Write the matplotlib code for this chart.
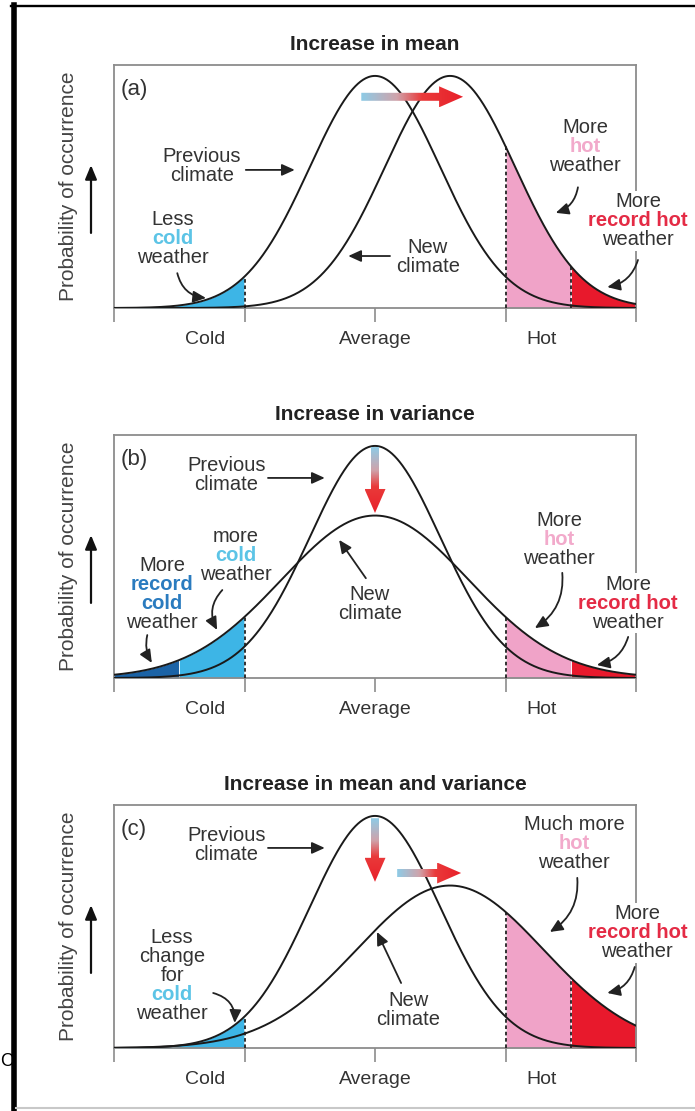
import numpy as np
import matplotlib
matplotlib.use('Agg')
import matplotlib.pyplot as plt
from matplotlib.colors import LinearSegmentedColormap
from matplotlib.lines import Line2D
from matplotlib.patches import Polygon
from matplotlib.transforms import blended_transform_factory

plt.rcParams['font.family'] = ['Liberation Sans', 'DejaVu Sans']

# ---- data ----
titles = ['Increase in mean', 'Increase in variance', 'Increase in mean and variance']
tags = ['(a)', '(b)', '(c)']
prev_mean = [0.0, 0.0, 0.0]
prev_sd = [1.0, 1.0, 1.0]
prev_peak = [1.0, 1.0, 1.0]
new_mean = [1.15, 0.0, 1.15]
new_sd = [1.0, 1.43, 1.43]
new_peak = [1.0, 0.7, 0.7]

record_cold = -3
cold = -2
hot = 2
record_hot = 3
x_lo, x_hi = -4, 4

cat_labels = ['Cold', 'Average', 'Hot']
cat_pos = [-2.6, 0.0, 2.55]
edge_ticks = [-4, -2, 0, 2, 4]

# colours
c_lblue = '#3db5e6'
c_dblue = '#1b63a6'
c_pink = '#f0a3c8'
c_red = '#e8192c'
txt_col = {None: '#333333', 'cold': '#5cc4e6', 'hot': '#f2aacb',
           'rhot': '#e42b45', 'rcold': '#2a7bbf'}

# shaded tails: (from, to, curve, colour)
fills = [
    [(x_lo, cold, 'prev', c_lblue), (hot, record_hot, 'new', c_pink), (record_hot, x_hi, 'new', c_red)],
    [(x_lo, record_cold, 'new', c_dblue), (record_cold, cold, 'new', c_lblue),
     (hot, record_hot, 'new', c_pink), (record_hot, x_hi, 'new', c_red)],
    [(x_lo, cold, 'max', c_lblue), (hot, record_hot, 'new', c_pink), (record_hot, x_hi, 'new', c_red)],
]
dashes = [
    [(cold, 'prev'), (hot, 'new'), (record_hot, 'new')],
    [(cold, 'new'), (hot, 'new')],
    [(cold, 'max'), (hot, 'new'), (record_hot, 'new')],
]

# ---- annotation layout ----
texts = [
    [(-2.65, 0.61, [('Previous', None), ('climate', None)], False),
     (-3.10, 0.30, [('Less', None), ('cold', 'cold'), ('weather', None)], False),
     (0.81, 0.22, [('New', None), ('climate', None)], False),
     (3.22, 0.694, [('More', None), ('hot', 'hot'), ('weather', None)], False),
     (4.03, 0.375, [('More', None), ('record hot', 'rhot'), ('weather', None)], True)],
    [(-2.28, 0.875, [('Previous', None), ('climate', None)], False),
     (-2.13, 0.526, [('more', None), ('cold', 'cold'), ('weather', None)], False),
     (-3.26, 0.364, [('More', None), ('record', 'rcold'), ('cold', 'rcold'), ('weather', None)], False),
     (-0.08, 0.32, [('New', None), ('climate', None)], False),
     (2.82, 0.595, [('More', None), ('hot', 'hot'), ('weather', None)], False),
     (3.88, 0.323, [('More', None), ('record hot', 'rhot'), ('weather', None)], True)],
    [(-2.28, 0.875, [('Previous', None), ('climate', None)], False),
     (-3.11, 0.312, [('Less', None), ('change', None), ('for', None), ('cold', 'cold'), ('weather', None)], False),
     (0.51, 0.164, [('New', None), ('climate', None)], False),
     (3.05, 0.879, [('Much more', None), ('hot', 'hot'), ('weather', None)], False),
     (4.02, 0.496, [('More', None), ('record hot', 'rhot'), ('weather', None)], True)],
]
pointers = [
    [((-1.98, 0.595), (-1.23, 0.595), 0), ((-3.03, 0.15), (-2.59, 0.043), 0.35),
     ((0.23, 0.224), (-0.41, 0.224), 0), ((3.11, 0.52), (2.77, 0.41), -0.3),
     ((4.03, 0.207), (3.56, 0.09), -0.3)],
    [((-1.64, 0.862), (-0.77, 0.862), 0), ((-2.34, 0.379), (-2.42, 0.207), 0.35),
     ((-3.49, 0.185), (-3.42, 0.065), 0.2), ((-0.14, 0.43), (-0.55, 0.595), 0),
     ((2.87, 0.453), (2.45, 0.215), -0.3), ((3.88, 0.177), (3.40, 0.056), -0.3)],
    [((-1.64, 0.862), (-0.77, 0.862), 0), ((-2.48, 0.237), (-2.15, 0.108), -0.4),
     ((0.40, 0.28), (0.03, 0.50), 0), ((3.10, 0.733), (2.68, 0.50), -0.3),
     ((3.98, 0.349), (3.56, 0.237), -0.3)],
]
shifts = [
    [((-0.21, 0.91), (1.35, 0.91))],
    [((0.0, 0.995), (0.0, 0.711))],
    [((0.0, 0.99), (0.0, 0.716)), ((0.34, 0.754), (1.32, 0.754))],
]

W, H = 695, 1111
fig = plt.figure(figsize=(W / 100, H / 100), dpi=100)
fig.patch.set_facecolor('white')

ax_left, ax_w, ax_h = 114, 522, 243
baselines = [308, 678, 1048]
y_top = 1.047
SX = ax_w / (x_hi - x_lo)
SY = ax_h / y_top

arrow_cmap = LinearSegmentedColormap.from_list(
    'shift', [(0, '#8ecbe6'), (0.35, '#cfa3ab'), (0.6, '#ea3a3a'), (1, '#e8202a')])
grey = '#8c8c8c'


def gauss(x, m, s, p):
    return p * np.exp(-0.5 * ((x - m) / s) ** 2)


def grad_arrow(ax, start, end):
    x0, y0 = start
    x1, y1 = end
    dx, dy = (x1 - x0) * SX, (y1 - y0) * SY
    L = np.hypot(dx, dy)
    ux, uy = dx / L, dy / L
    nx, ny = -uy, ux
    sw, hw, hl = 4, 10.5, 24
    loc = [(0, -sw), (L - hl, -sw), (L - hl, -hw), (L, 0), (L - hl, hw), (L - hl, sw), (0, sw)]
    verts = np.array([(x0 + (a * ux + b * nx) / SX, y0 + (a * uy + b * ny) / SY) for a, b in loc])
    poly = Polygon(verts, closed=True, fc='none', ec='none')
    ax.add_patch(poly)
    xmin, ymin = verts.min(0)
    xmax, ymax = verts.max(0)
    gx, gy = np.meshgrid(np.linspace(xmin, xmax, 200), np.linspace(ymin, ymax, 200))
    t = ((gx - x0) * SX * ux + (gy - y0) * SY * uy) / L
    im = ax.imshow(t, extent=(xmin, xmax, ymin, ymax), origin='lower', cmap=arrow_cmap,
                   vmin=0, vmax=1, aspect='auto', zorder=6, interpolation='bilinear')
    im.set_clip_path(poly)


def put_lines(ax, x, y, lines, bg, pitch=19):
    n = len(lines)
    for i, (word, key) in enumerate(lines):
        off = ((n - 1) / 2 - i) * pitch
        kw = {}
        if bg:
            kw['bbox'] = dict(fc='white', ec='none', pad=1)
        ax.annotate(word, (x, y), xytext=(0, off), textcoords='offset pixels',
                    ha='center', va='center', fontsize=14.5, color=txt_col[key],
                    fontweight='bold' if key else 'normal', zorder=7,
                    annotation_clip=False, **kw)


xs = np.linspace(x_lo, x_hi, 600)

for k in range(3):
    bottom = 1 - baselines[k] / H
    ax = fig.add_axes([ax_left / W, bottom, ax_w / W, ax_h / H])
    yp = gauss(xs, prev_mean[k], prev_sd[k], prev_peak[k])
    yn = gauss(xs, new_mean[k], new_sd[k], new_peak[k])
    curves = {'prev': yp, 'new': yn, 'max': np.maximum(yp, yn)}

    for a, b, which, col in fills[k]:
        m = (xs >= a) & (xs <= b)
        ax.fill_between(xs[m], 0, curves[which][m], color=col, lw=0, zorder=2)
    for xv, which in dashes[k]:
        ax.plot([xv, xv], [0, np.interp(xv, xs, curves[which])], color='#222222',
                lw=1.3, ls=(0, (2, 1.5)), zorder=3)

    ax.plot(xs, yp, color='#1a1a1a', lw=1.4, zorder=4)
    ax.plot(xs, yn, color='#1a1a1a', lw=1.4, zorder=4)

    for start, end in shifts[k]:
        grad_arrow(ax, start, end)

    for x, y, lines, bg in texts[k]:
        put_lines(ax, x, y, lines, bg)
    for start, end, rad in pointers[k]:
        ax.annotate('', xy=end, xytext=start,
                    arrowprops=dict(arrowstyle='-|>,head_length=0.55,head_width=0.25',
                                    connectionstyle=f'arc3,rad={rad}', color='#222222',
                                    lw=1.3, mutation_scale=14, shrinkA=0, shrinkB=0),
                    zorder=7, annotation_clip=False)

    ax.set_xlim(x_lo, x_hi)
    ax.set_ylim(0, y_top)
    ax.set_xticks(edge_ticks)
    ax.set_xticklabels([])
    ax.set_yticks([])
    ax.tick_params(axis='x', length=10, width=1.2, color=grey, direction='out')
    for sp in ax.spines.values():
        sp.set_color(grey)
        sp.set_linewidth(1.3)

    trans = blended_transform_factory(ax.transData, ax.transAxes)
    for lab, pos in zip(cat_labels, cat_pos):
        ax.text(pos, -32 / ax_h, lab, transform=trans, ha='center', va='center',
                fontsize=14, color='#333333')

    ax.text(0.5, 1 + 21 / ax_h, titles[k], transform=ax.transAxes, ha='center',
            va='center', fontsize=15, fontweight='bold', color='#222222')
    ax.text(7 / ax_w, 1 - 25 / ax_h, tags[k], transform=ax.transAxes, ha='left',
            va='center', fontsize=16, color='#333333')

    ax.text(-46 / ax_w, 0.5, 'Probability of occurrence', transform=ax.transAxes,
            rotation=90, ha='center', va='center', fontsize=15, color='#444444')
    ax.annotate('', xy=(-23 / ax_w, 0.588), xytext=(-23 / ax_w, 0.309),
                xycoords='axes fraction', textcoords='axes fraction',
                arrowprops=dict(arrowstyle='-|>,head_length=0.6,head_width=0.25',
                                color='#111111', lw=1.6, mutation_scale=14,
                                shrinkA=0, shrinkB=0),
                annotation_clip=False)

# stray letter at the left edge, then the outer frame pieces on top
fig.text(0.5 / W, 1 - 1061 / H, 'C', ha='left', va='center', fontsize=13, color='black')
fig.add_artist(Line2D([13.8 / W, 13.8 / W], [0, 1 - 5 / H], transform=fig.transFigure,
                      color='black', lw=4))
fig.add_artist(Line2D([11 / W, 1], [1 - 6.2 / H, 1 - 6.2 / H], transform=fig.transFigure,
                      color='black', lw=1.7))
fig.add_artist(Line2D([16 / W, 1], [1 - 1108 / H, 1 - 1108 / H], transform=fig.transFigure,
                      color='#c8c8c8', lw=1.5))

fig.savefig('out.png', dpi=100, facecolor='white')
